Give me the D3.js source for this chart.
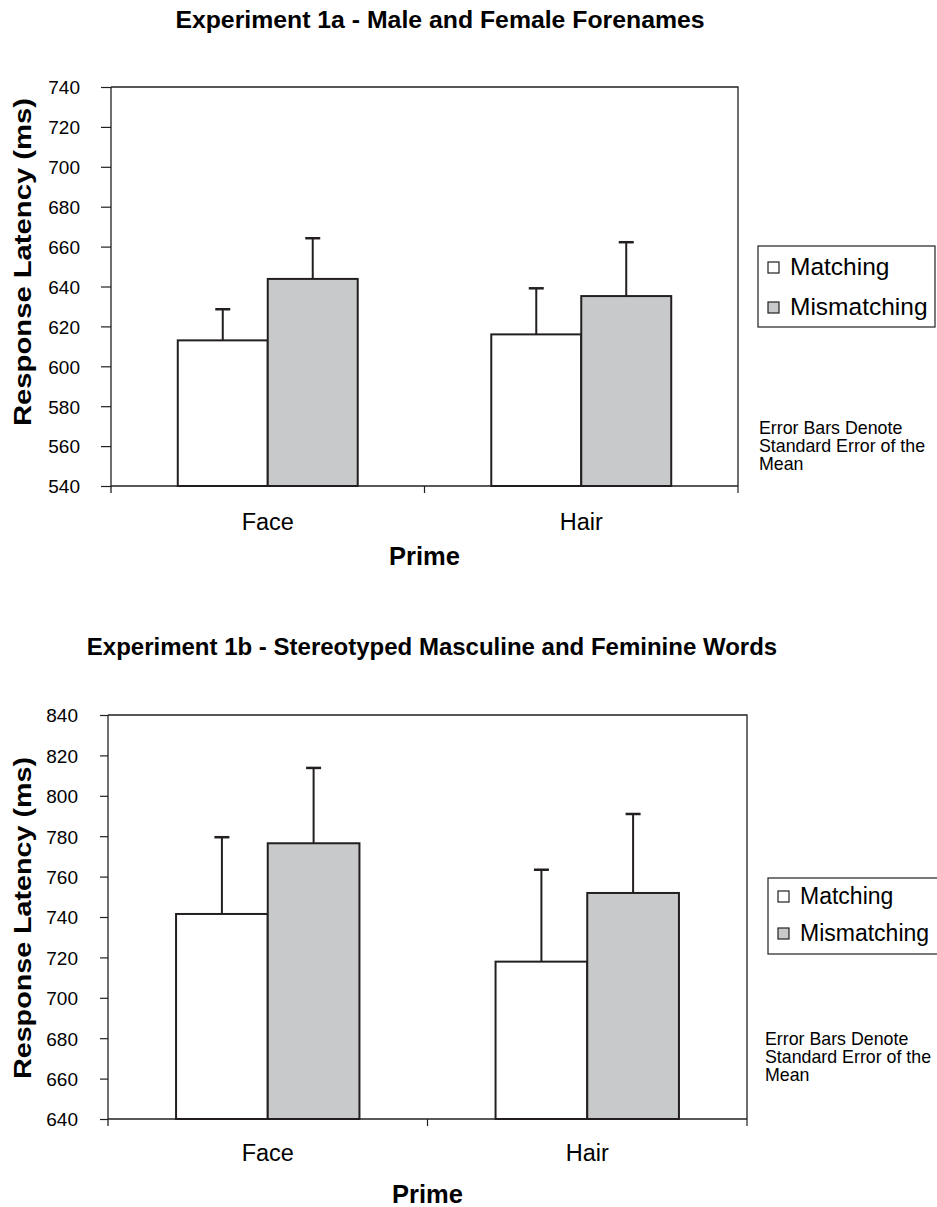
<!DOCTYPE html>
<html><head><meta charset="utf-8">
<script src="https://cdn.jsdelivr.net/npm/d3@7"></script>
<style>
html,body{margin:0;padding:0;background:#fff;}
svg{display:block;}
text{font-family:"Liberation Sans",Arial,Helvetica,sans-serif;fill:#000;}
</style>
</head><body>
<svg id="c" width="937" height="1207"></svg>
<script>
// ---- data ----
const categories = ["Face", "Hair"];
const seriesNames = ["Matching", "Mismatching"];

const exp1aMatching = [613.0, 616.0];
const exp1aMismatching = [643.8, 635.2];
const exp1aMatchingSE = [15.6, 23.1];
const exp1aMismatchingSE = [20.4, 27.0];
const exp1aTicks = [540, 560, 580, 600, 620, 640, 660, 680, 700, 720, 740];

const exp1bMatching = [741.5, 717.9];
const exp1bMismatching = [776.5, 751.9];
const exp1bMatchingSE = [38.0, 45.5];
const exp1bMismatchingSE = [37.3, 39.1];
const exp1bTicks = [640, 660, 680, 700, 720, 740, 760, 780, 800, 820, 840];

const titles = ["Experiment 1a - Male and Female Forenames",
                "Experiment 1b - Stereotyped Masculine and Feminine Words"];
const yTitle = "Response Latency (ms)";
const xTitle = "Prime";
const noteLines = ["Error Bars Denote", "Standard Error of the", "Mean"];

// ---- drawing ----
const svg = d3.select("#c");
const ink = "#231f20";
const grey = "#c8c9cb";
const FONT = '"Liberation Sans",Arial,Helvetica,sans-serif';

function drawChart(o) {
  const g = svg.append("g");
  const x0 = d3.scaleBand().domain(categories).range([o.left, o.right]);
  const gap = x0.bandwidth() * 0.213;
  const x1 = d3.scaleBand().domain(seriesNames).range([gap, x0.bandwidth() - gap]);
  const y = d3.scaleLinear().domain([o.ticks[0], o.ticks[o.ticks.length - 1]]).range([o.bottom, o.top]);

  // title
  g.append("text").attr("x", o.titleX).attr("y", o.titleY)
    .attr("text-anchor", "middle").attr("font-weight", "bold").attr("font-size", o.titleSize)
    .text(o.title);

  // frame (top + right)
  g.append("path")
    .attr("d", `M${o.left},${o.top}H${o.right}V${o.bottom}`)
    .attr("fill", "none").attr("stroke", ink).attr("stroke-width", 1.3);

  // bars
  const rows = categories.flatMap((c, i) => seriesNames.map((s, j) => ({
    c, s, v: o.means[j][i], e: o.ses[j][i]
  })));
  g.selectAll("rect.bar").data(rows).join("rect").attr("class", "bar")
    .attr("x", d => x0(d.c) + x1(d.s))
    .attr("width", x1.bandwidth())
    .attr("y", d => y(d.v))
    .attr("height", d => y(o.ticks[0]) - y(d.v))
    .attr("fill", d => d.s === "Matching" ? "#fff" : grey)
    .attr("stroke", ink).attr("stroke-width", 2);

  // error bars (upper only)
  const eb = g.selectAll("g.eb").data(rows).join("g").attr("class", "eb");
  eb.append("line")
    .attr("x1", d => x0(d.c) + x1(d.s) + x1.bandwidth() / 2)
    .attr("x2", d => x0(d.c) + x1(d.s) + x1.bandwidth() / 2)
    .attr("y1", d => y(d.v)).attr("y2", d => y(d.v + d.e))
    .attr("stroke", ink).attr("stroke-width", 2);
  eb.append("line")
    .attr("x1", d => x0(d.c) + x1(d.s) + x1.bandwidth() / 2 - 7.5)
    .attr("x2", d => x0(d.c) + x1(d.s) + x1.bandwidth() / 2 + 7.5)
    .attr("y1", d => y(d.v + d.e)).attr("y2", d => y(d.v + d.e))
    .attr("stroke", ink).attr("stroke-width", 2.5);

  // y axis
  const ya = d3.axisLeft(y).tickValues(o.ticks).tickSize(o.tickLen)
    .tickPadding(o.tickPad).tickSizeOuter(0).tickFormat(d3.format("d"));
  const yg = g.append("g").attr("transform", `translate(${o.left},0)`).call(ya);
  yg.select(".domain").attr("stroke", ink).attr("stroke-width", 1.3)
    .attr("d", `M0,${o.top}V${o.bottom + 7}`);
  yg.selectAll(".tick line").attr("stroke", ink).attr("stroke-width", 1.2);
  yg.selectAll(".tick text").attr("font-size", 19).attr("font-family", FONT)
    .attr("fill", "#000").attr("dy", "0.36em");

  // x axis
  const xa = d3.axisBottom(x0).tickSize(0).tickPadding(0);
  const xg = g.append("g").attr("transform", `translate(0,${o.bottom})`).call(xa);
  xg.select(".domain").attr("stroke", ink).attr("stroke-width", 1.3)
    .attr("d", `M${o.left},0H${o.right}`);
  xg.selectAll(".tick text").attr("font-size", 23.5).attr("font-family", FONT)
    .attr("fill", "#000").attr("dy", 0).attr("y", o.catDy);
  const bounds = categories.map(c => x0(c)).concat([o.right]).slice(1);
  xg.selectAll("line.bt").data(bounds).join("line").attr("class", "bt")
    .attr("x1", d => d).attr("x2", d => d).attr("y1", 0).attr("y2", 7)
    .attr("stroke", ink).attr("stroke-width", 1.2);

  // axis titles
  g.append("text").attr("x", (o.left + o.right) / 2).attr("y", o.bottom + o.primeDy)
    .attr("text-anchor", "middle").attr("font-weight", "bold").attr("font-size", 25.5)
    .text(xTitle);
  g.append("text")
    .attr("transform", `translate(31,${o.yTitleC}) rotate(-90)`)
    .attr("text-anchor", "middle").attr("font-weight", "bold").attr("font-size", 24)
    .attr("textLength", o.yTitleLen).attr("lengthAdjust", "spacingAndGlyphs")
    .text(yTitle);

  // legend
  const L = o.legend;
  g.append("rect").attr("x", L.x).attr("y", L.y).attr("width", L.w).attr("height", L.h)
    .attr("fill", "#fff").attr("stroke", ink).attr("stroke-width", 1.2);
  const li = g.selectAll("g.li").data(seriesNames).join("g").attr("class", "li")
    .attr("transform", (d, i) => `translate(${L.x + 10},${L.y + L.row0 + i * L.rowStep})`);
  li.append("rect").attr("x", 0).attr("y", -11).attr("width", 11).attr("height", 11)
    .attr("fill", d => d === "Matching" ? "#fff" : grey)
    .attr("stroke", ink).attr("stroke-width", 1.2);
  li.append("text").attr("x", 22).attr("y", 2).attr("font-size", L.size)
    .text(d => d);

  // note
  g.selectAll("text.note").data(noteLines).join("text").attr("class", "note")
    .attr("x", o.note.x).attr("y", (d, i) => o.note.y + i * 18)
    .attr("font-size", 17.8).text(d => d);
}

drawChart({
  title: titles[0], titleX: 440, titleY: 28, titleSize: 24.8,
  left: 111, right: 738, top: 87, bottom: 486,
  ticks: exp1aTicks, tickLen: 10, tickPad: 21,
  means: [exp1aMatching, exp1aMismatching], ses: [exp1aMatchingSE, exp1aMismatchingSE],
  catDy: 44, primeDy: 79, yTitleC: 262, yTitleLen: 328,
  legend: { x: 758, y: 246, w: 177, h: 81, row0: 27, rowStep: 40, size: 24.5 },
  note: { x: 759, y: 434 }
});

drawChart({
  title: titles[1], titleX: 432, titleY: 655, titleSize: 24,
  left: 108, right: 747, top: 715, bottom: 1119,
  ticks: exp1bTicks, tickLen: 8, tickPad: 22,
  means: [exp1bMatching, exp1bMismatching], ses: [exp1bMatchingSE, exp1bMismatchingSE],
  catDy: 42, primeDy: 84, yTitleC: 918, yTitleLen: 322,
  legend: { x: 768, y: 878, w: 190, h: 76, row0: 24, rowStep: 37, size: 23 },
  note: { x: 765, y: 1045 }
});
</script>
</body></html>
